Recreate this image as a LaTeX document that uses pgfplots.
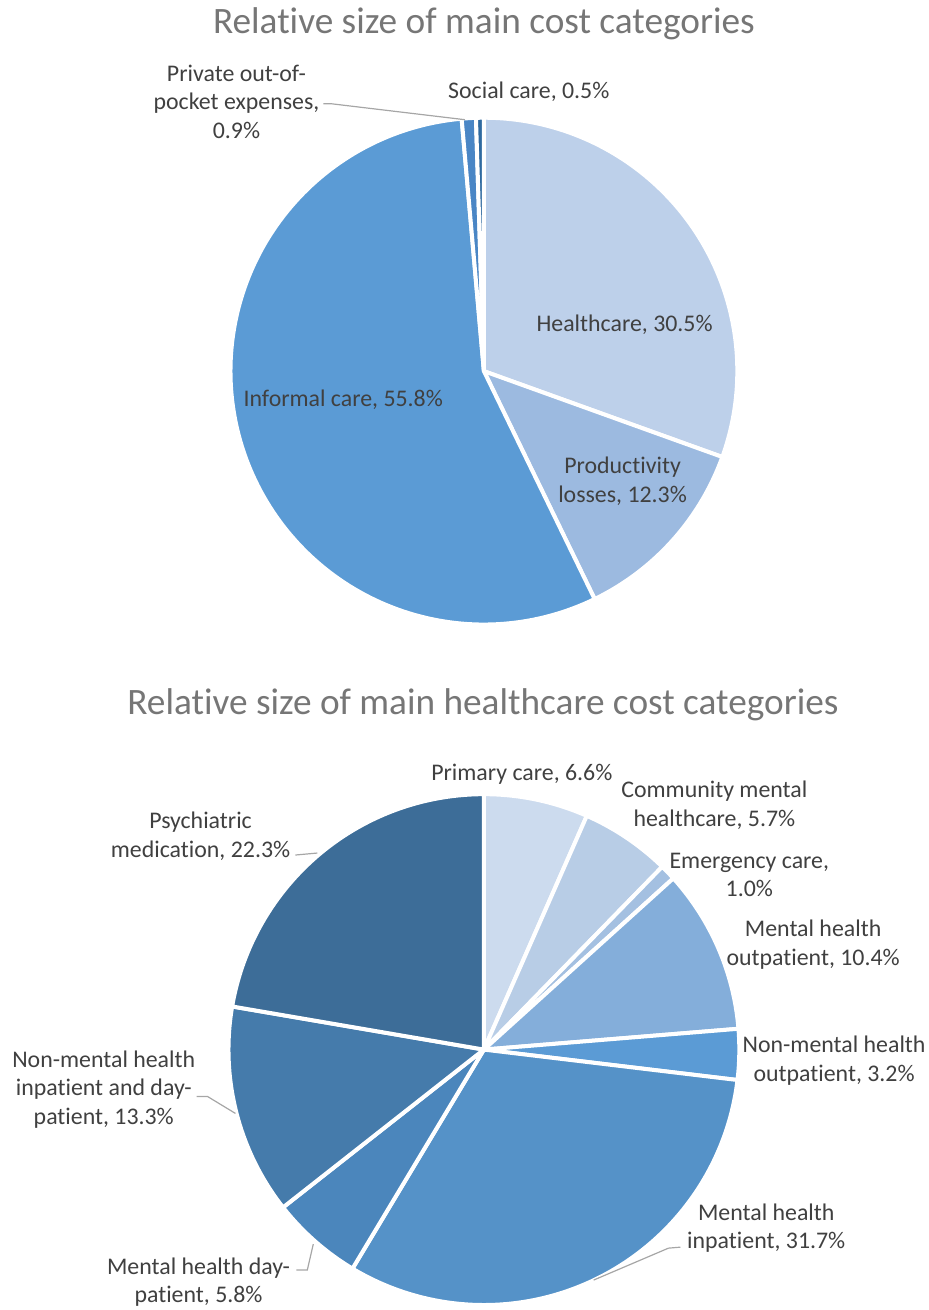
\documentclass[border=0pt]{standalone}
\usepackage{fontspec}
\setmainfont{Carlito}[Ligatures={NoCommon,NoRequired,NoContextual,NoRare}]
\usepackage{pgfplots}
\pgfplotsset{compat=1.18}
\newcommand\ti{t\kern0pt i}
\definecolor{titlec}{HTML}{767676}
\definecolor{labc}{HTML}{404040}
\definecolor{leadc}{HTML}{A6A6A6}
% top pie colours
\definecolor{t1}{HTML}{BDD0EA}
\definecolor{t2}{HTML}{9CBAE0}
\definecolor{t3}{HTML}{5B9BD5}
\definecolor{t4}{HTML}{4A86C5}
\definecolor{t5}{HTML}{2F6AA0}
% bottom pie colours
\definecolor{b1}{HTML}{CCDBEE}
\definecolor{b2}{HTML}{B8CDE6}
\definecolor{b3}{HTML}{A4C0E1}
\definecolor{b4}{HTML}{84AEDA}
\definecolor{b5}{HTML}{5B9BD5}
\definecolor{b6}{HTML}{5592C8}
\definecolor{b7}{HTML}{4B86BC}
\definecolor{b8}{HTML}{457BAB}
\definecolor{b9}{HTML}{3D6D98}
% slice: colour, cx, cy, radius, start cum %, end cum %
\newcommand\slice[6]{%
  \pgfmathsetmacro\aA{90-3.6*(#6)}%
  \pgfmathsetmacro\aB{90-3.6*(#5)}%
  \edef\doslice{\noexpand\addplot[fill=#1, draw=white, line width=4bp, line join=round, domain=\aA:\aB, samples=150]
    ({#2+#4*cos(x)},{#3+#4*sin(x)}) -- (axis cs:#2,#3) -- cycle;}%
  \doslice}
\begin{document}
\begin{tikzpicture}[
  lab/.style={align=center, font=\fontsize{24}{29}\selectfont, text=labc},
  ttl/.style={font=\fontsize{37.5}{45}\selectfont, text=titlec},
  leader/.style={draw=leadc, line width=1.2bp}]
\begin{axis}[x=1bp, y=1bp, xmin=0, xmax=931, ymin=0, ymax=1310,
  hide axis, scale only axis, clip=false]
\addplot[draw=none, mark=none] coordinates {(0,0) (931,1310)};
% ---- top pie: Healthcare 30.5, Productivity 12.3, Informal 55.8, Private 0.9, Social 0.5
\slice{t1}{485}{938}{254}{0}{30.5}
\slice{t2}{485}{938}{254}{30.5}{42.8}
\slice{t3}{485}{938}{254}{42.8}{98.6}
\slice{t4}{485}{938}{254}{98.6}{99.5}
\slice{t5}{485}{938}{254}{99.5}{100}
% ---- bottom pie
\slice{b1}{485}{258}{256}{0}{6.6}
\slice{b2}{485}{258}{256}{6.6}{12.3}
\slice{b3}{485}{258}{256}{12.3}{13.3}
\slice{b4}{485}{258}{256}{13.3}{23.7}
\slice{b5}{485}{258}{256}{23.7}{26.9}
\slice{b6}{485}{258}{256}{26.9}{58.6}
\slice{b7}{485}{258}{256}{58.6}{64.4}
\slice{b8}{485}{258}{256}{64.4}{77.7}
\slice{b9}{485}{258}{256}{77.7}{100}
% titles
\node[ttl] at (axis cs:485,1286) {Rela\ti ve size of main cost categories};
\node[ttl] at (axis cs:484,604) {Rela\ti ve size of main healthcare cost categories};
% top labels
\node[lab] at (axis cs:530,1218) {Social care, 0.5\%};
\node[lab] at (axis cs:237,1208) {Private out-of-\\pocket expenses,\\0.9\%};
\node[lab] at (axis cs:626,985) {Healthcare, 30.5\%};
\node[lab] at (axis cs:624,828) {Produc\ti vity\\losses, 12.3\%};
\node[lab] at (axis cs:344,909) {Informal care, 55.8\%};
\draw[leader] (axis cs:324,1206) -- (axis cs:332,1206) -- (axis cs:466,1190);
% bottom labels
\node[lab] at (axis cs:523,534) {Primary care, 6.6\%};
\node[lab] at (axis cs:716,503) {Community mental\\healthcare, 5.7\%};
\node[lab] at (axis cs:751,433) {Emergency care,\\1.0\%};
\node[lab] at (axis cs:815,363) {Mental health\\outpa\ti ent, 10.4\%};
\node[lab] at (axis cs:836,247) {Non-mental health\\outpa\ti ent, 3.2\%};
\node[lab] at (axis cs:768,79) {Mental health\\inpa\ti ent, 31.7\%};
\node[lab] at (axis cs:199,25) {Mental health day-\\pa\ti ent, 5.8\%};
\node[lab] at (axis cs:104,218) {Non-mental health\\inpa\ti ent and day-\\pa\ti ent, 13.3\%};
\node[lab] at (axis cs:201,472) {Psychiatric\\medication, 22.3\%};
\draw[leader] (axis cs:682,60) -- (axis cs:670,59) -- (axis cs:595,27);
\draw[leader] (axis cs:297,37) -- (axis cs:308,37) -- (axis cs:314,63);
\draw[leader] (axis cs:197,211) -- (axis cs:208,211) -- (axis cs:236,194);
\draw[leader] (axis cs:296,453) -- (axis cs:318,455);
\end{axis}
\end{tikzpicture}
\end{document}
